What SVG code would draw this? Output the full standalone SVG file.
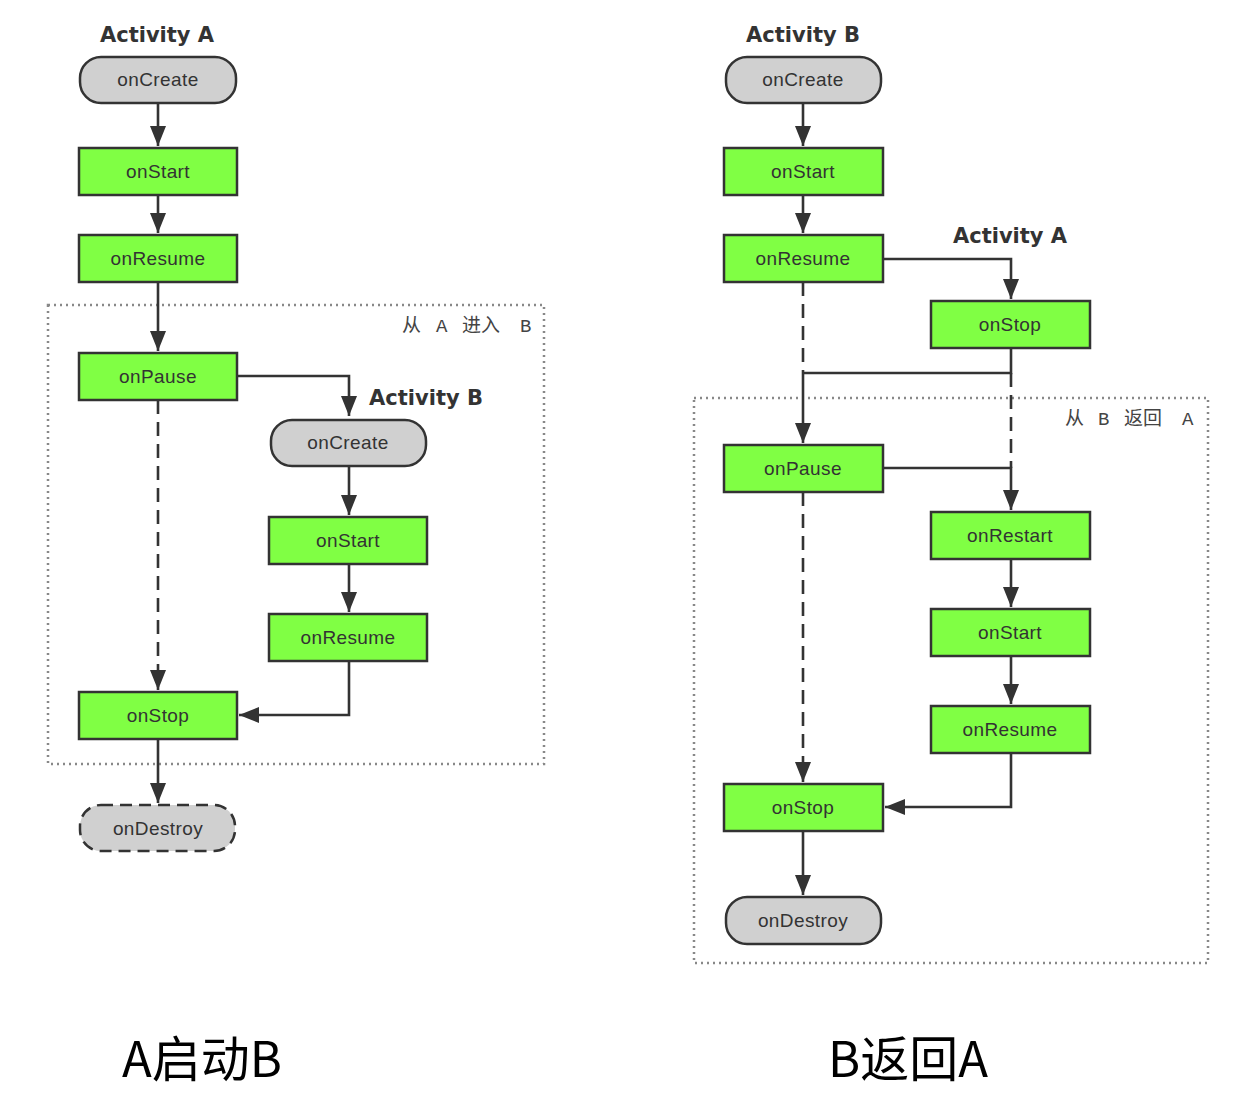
<svg xmlns="http://www.w3.org/2000/svg" width="1240" height="1110" viewBox="0 0 1240 1110">
<defs>
<style>
.box{fill:#80ff44;stroke:#333;stroke-width:2.5}
.pill{fill:#d0d0d0;stroke:#333;stroke-width:2.5}
.pilld{fill:#d0d0d0;stroke:#333;stroke-width:2.5;stroke-dasharray:12 7}
.t{font-family:"Liberation Sans",Arial,sans-serif;font-size:19px;letter-spacing:0.4px;fill:#333;text-anchor:middle}
.h{font-family:"DejaVu Sans","Liberation Sans",sans-serif;font-weight:bold;font-size:21px;fill:#333;text-anchor:middle}
.ln{fill:none;stroke:#333;stroke-width:2.6}
.dash{fill:none;stroke:#333;stroke-width:2.6;stroke-dasharray:14 8}
.grp{fill:none;stroke:#888;stroke-width:2.5;stroke-dasharray:2 4}
.gl{font-family:"Liberation Mono","Noto Sans CJK SC",monospace;font-size:19px;fill:#444}
.cap{font-family:"Noto Sans CJK SC","Open Sans",sans-serif;font-size:49px;fill:#000}
</style>
<marker id="ah" markerUnits="userSpaceOnUse" markerWidth="22" markerHeight="16" refX="20" refY="8" orient="auto"><path d="M0,0 L20,8 L0,16 Z" fill="#333"/></marker>
</defs>
<rect width="1240" height="1110" fill="#fff"/>

<g id="groups">
<rect class="grp" x="48" y="305" width="496" height="459"/>
<text class="gl" x="402" y="332">从<tspan x="436">A</tspan><tspan x="462">进入</tspan><tspan x="520">B</tspan></text>
<rect class="grp" x="694" y="398" width="514" height="565"/>
<text class="gl" x="1065" y="425">从<tspan x="1098">B</tspan><tspan x="1124">返回</tspan><tspan x="1182">A</tspan></text>
</g>

<g id="connectors">
<path class="ln" d="M158,103 V146" marker-end="url(#ah)"/>
<path class="ln" d="M158,195 V233" marker-end="url(#ah)"/>
<path class="ln" d="M158,282 V351" marker-end="url(#ah)"/>
<path class="ln" d="M237,376 H349 V416" marker-end="url(#ah)"/>
<path class="dash" d="M158,400 V690" marker-end="url(#ah)"/>
<path class="ln" d="M349,466 V515" marker-end="url(#ah)"/>
<path class="ln" d="M349,564 V612" marker-end="url(#ah)"/>
<path class="ln" d="M349,661 V715 H239" marker-end="url(#ah)"/>
<path class="ln" d="M158,739 V803" marker-end="url(#ah)"/>

<path class="ln" d="M803,103 V146" marker-end="url(#ah)"/>
<path class="ln" d="M803,195 V233" marker-end="url(#ah)"/>
<path class="ln" d="M883,259 H1011 V299" marker-end="url(#ah)"/>
<path class="dash" d="M803,282 V373"/>
<path class="ln" d="M1011,348 V373 H803"/>
<path class="ln" d="M803,373 V443" marker-end="url(#ah)"/>
<path class="dash" d="M1011,373 V468"/>
<path class="ln" d="M883,468 H1011 V510" marker-end="url(#ah)"/>
<path class="dash" d="M803,492 V782" marker-end="url(#ah)"/>
<path class="ln" d="M1011,559 V607" marker-end="url(#ah)"/>
<path class="ln" d="M1011,656 V704" marker-end="url(#ah)"/>
<path class="ln" d="M1011,753 V807 H885" marker-end="url(#ah)"/>
<path class="ln" d="M803,831 V895" marker-end="url(#ah)"/>
</g>

<g id="left-title"><text class="h" x="157" y="42">Activity A</text></g>
<g id="a-oncreate"><rect class="pill" x="80" y="57" width="156" height="46" rx="21"/><text class="t" x="158" y="86">onCreate</text></g>
<g id="a-onstart"><rect class="box" x="79" y="148" width="158" height="47"/><text class="t" x="158" y="178">onStart</text></g>
<g id="a-onresume"><rect class="box" x="79" y="235" width="158" height="47"/><text class="t" x="158" y="265">onResume</text></g>
<g id="a-onpause"><rect class="box" x="79" y="353" width="158" height="47"/><text class="t" x="158" y="383">onPause</text></g>
<g id="b-title1"><text class="h" x="426" y="405">Activity B</text></g>
<g id="b-oncreate1"><rect class="pill" x="271" y="420" width="155" height="46" rx="21"/><text class="t" x="348" y="449">onCreate</text></g>
<g id="b-onstart1"><rect class="box" x="269" y="517" width="158" height="47"/><text class="t" x="348" y="547">onStart</text></g>
<g id="b-onresume1"><rect class="box" x="269" y="614" width="158" height="47"/><text class="t" x="348" y="644">onResume</text></g>
<g id="a-onstop1"><rect class="box" x="79" y="692" width="158" height="47"/><text class="t" x="158" y="722">onStop</text></g>
<g id="a-ondestroy1"><rect class="pilld" x="80" y="805" width="155" height="46" rx="21"/><text class="t" x="158" y="835">onDestroy</text></g>

<g id="right-title"><text class="h" x="803" y="42">Activity B</text></g>
<g id="b-oncreate"><rect class="pill" x="726" y="57" width="155" height="46" rx="21"/><text class="t" x="803" y="86">onCreate</text></g>
<g id="b-onstart"><rect class="box" x="724" y="148" width="159" height="47"/><text class="t" x="803" y="178">onStart</text></g>
<g id="b-onresume"><rect class="box" x="724" y="235" width="159" height="47"/><text class="t" x="803" y="265">onResume</text></g>
<g id="a-title2"><text class="h" x="1010" y="243">Activity A</text></g>
<g id="a-onstop2"><rect class="box" x="931" y="301" width="159" height="47"/><text class="t" x="1010" y="331">onStop</text></g>
<g id="b-onpause"><rect class="box" x="724" y="445" width="159" height="47"/><text class="t" x="803" y="475">onPause</text></g>
<g id="a-onrestart"><rect class="box" x="931" y="512" width="159" height="47"/><text class="t" x="1010" y="542">onRestart</text></g>
<g id="a-onstart2"><rect class="box" x="931" y="609" width="159" height="47"/><text class="t" x="1010" y="639">onStart</text></g>
<g id="a-onresume2"><rect class="box" x="931" y="706" width="159" height="47"/><text class="t" x="1010" y="736">onResume</text></g>
<g id="b-onstop"><rect class="box" x="724" y="784" width="159" height="47"/><text class="t" x="803" y="814">onStop</text></g>
<g id="b-ondestroy"><rect class="pill" x="726" y="897" width="155" height="47" rx="21"/><text class="t" x="803" y="927">onDestroy</text></g>

<g id="captions">
<text class="cap" x="122" y="1077">A启动B</text>
<text class="cap" x="828" y="1077">B返回A</text>
</g>
</svg>
